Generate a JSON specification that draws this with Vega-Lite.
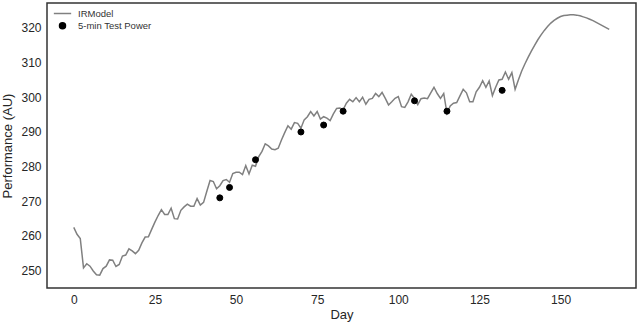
{
  "$schema": "https://vega.github.io/schema/vega-lite/v6.json",
  "autosize": "none",
  "padding": {"left": 47, "top": 3, "right": 4, "bottom": 36},
  "width": 589,
  "height": 285,
  "background": "white",
  "config": {
    "view": {"stroke": "#333333", "strokeWidth": 1.5},
    "font": "Liberation Sans",
    "axis": {
      "domain": false, "ticks": false, "grid": false,
      "labelFont": "Liberation Sans", "labelFontSize": 12, "labelColor": "#262626",
      "titleFont": "Liberation Sans", "titleFontSize": 13, "titleFontWeight": "normal", "titleColor": "#262626"
    },
    "legend": {
      "orient": "none", "legendX": 4, "legendY": -1, "padding": 2, "title": null,
      "labelFont": "Liberation Sans", "labelFontSize": 9.5, "labelColor": "#333333",
      "symbolStrokeWidth": 1.5, "labelOffset": 6, "rowPadding": 1
    }
  },
  "data": {
    "values": [
      {"day": 0, "perf": 262.5, "series": "IRModel"},
      {"day": 1, "perf": 260.5, "series": "IRModel"},
      {"day": 2, "perf": 259.3, "series": "IRModel"},
      {"day": 3, "perf": 250.8, "series": "IRModel"},
      {"day": 4, "perf": 252.0, "series": "IRModel"},
      {"day": 5, "perf": 251.3, "series": "IRModel"},
      {"day": 6, "perf": 249.9, "series": "IRModel"},
      {"day": 7, "perf": 248.8, "series": "IRModel"},
      {"day": 8, "perf": 248.7, "series": "IRModel"},
      {"day": 9, "perf": 250.6, "series": "IRModel"},
      {"day": 10, "perf": 251.3, "series": "IRModel"},
      {"day": 11, "perf": 253.1, "series": "IRModel"},
      {"day": 12, "perf": 253.0, "series": "IRModel"},
      {"day": 13, "perf": 251.2, "series": "IRModel"},
      {"day": 14, "perf": 251.8, "series": "IRModel"},
      {"day": 15, "perf": 254.2, "series": "IRModel"},
      {"day": 16, "perf": 254.5, "series": "IRModel"},
      {"day": 17, "perf": 256.3, "series": "IRModel"},
      {"day": 18, "perf": 255.7, "series": "IRModel"},
      {"day": 19, "perf": 254.9, "series": "IRModel"},
      {"day": 20, "perf": 255.9, "series": "IRModel"},
      {"day": 21, "perf": 258.0, "series": "IRModel"},
      {"day": 22, "perf": 259.7, "series": "IRModel"},
      {"day": 23, "perf": 259.8, "series": "IRModel"},
      {"day": 24, "perf": 261.9, "series": "IRModel"},
      {"day": 25, "perf": 264.0, "series": "IRModel"},
      {"day": 26, "perf": 265.9, "series": "IRModel"},
      {"day": 27, "perf": 267.6, "series": "IRModel"},
      {"day": 28, "perf": 266.2, "series": "IRModel"},
      {"day": 29, "perf": 266.2, "series": "IRModel"},
      {"day": 30, "perf": 268.0, "series": "IRModel"},
      {"day": 31, "perf": 265.0, "series": "IRModel"},
      {"day": 32, "perf": 264.9, "series": "IRModel"},
      {"day": 33, "perf": 267.4, "series": "IRModel"},
      {"day": 34, "perf": 268.4, "series": "IRModel"},
      {"day": 35, "perf": 269.2, "series": "IRModel"},
      {"day": 36, "perf": 268.6, "series": "IRModel"},
      {"day": 37, "perf": 268.6, "series": "IRModel"},
      {"day": 38, "perf": 270.8, "series": "IRModel"},
      {"day": 39, "perf": 268.9, "series": "IRModel"},
      {"day": 40, "perf": 269.7, "series": "IRModel"},
      {"day": 41, "perf": 272.9, "series": "IRModel"},
      {"day": 42, "perf": 276.0, "series": "IRModel"},
      {"day": 43, "perf": 275.7, "series": "IRModel"},
      {"day": 44, "perf": 273.6, "series": "IRModel"},
      {"day": 45, "perf": 274.5, "series": "IRModel"},
      {"day": 46, "perf": 276.0, "series": "IRModel"},
      {"day": 47, "perf": 276.3, "series": "IRModel"},
      {"day": 48, "perf": 275.5, "series": "IRModel"},
      {"day": 49, "perf": 278.0, "series": "IRModel"},
      {"day": 50, "perf": 278.4, "series": "IRModel"},
      {"day": 51, "perf": 278.4, "series": "IRModel"},
      {"day": 52, "perf": 277.7, "series": "IRModel"},
      {"day": 53, "perf": 280.3, "series": "IRModel"},
      {"day": 54, "perf": 277.9, "series": "IRModel"},
      {"day": 55, "perf": 280.4, "series": "IRModel"},
      {"day": 56, "perf": 280.1, "series": "IRModel"},
      {"day": 57, "perf": 282.9, "series": "IRModel"},
      {"day": 58, "perf": 284.4, "series": "IRModel"},
      {"day": 59, "perf": 286.6, "series": "IRModel"},
      {"day": 60, "perf": 286.0, "series": "IRModel"},
      {"day": 61, "perf": 285.1, "series": "IRModel"},
      {"day": 62, "perf": 284.9, "series": "IRModel"},
      {"day": 63, "perf": 285.3, "series": "IRModel"},
      {"day": 64, "perf": 287.7, "series": "IRModel"},
      {"day": 65, "perf": 289.8, "series": "IRModel"},
      {"day": 66, "perf": 291.8, "series": "IRModel"},
      {"day": 67, "perf": 290.8, "series": "IRModel"},
      {"day": 68, "perf": 292.7, "series": "IRModel"},
      {"day": 69, "perf": 292.5, "series": "IRModel"},
      {"day": 70, "perf": 291.1, "series": "IRModel"},
      {"day": 71, "perf": 293.5, "series": "IRModel"},
      {"day": 72, "perf": 294.4, "series": "IRModel"},
      {"day": 73, "perf": 295.9, "series": "IRModel"},
      {"day": 74, "perf": 294.6, "series": "IRModel"},
      {"day": 75, "perf": 295.9, "series": "IRModel"},
      {"day": 76, "perf": 293.7, "series": "IRModel"},
      {"day": 77, "perf": 294.4, "series": "IRModel"},
      {"day": 78, "perf": 294.0, "series": "IRModel"},
      {"day": 79, "perf": 293.3, "series": "IRModel"},
      {"day": 80, "perf": 295.2, "series": "IRModel"},
      {"day": 81, "perf": 296.8, "series": "IRModel"},
      {"day": 82, "perf": 296.9, "series": "IRModel"},
      {"day": 83, "perf": 296.4, "series": "IRModel"},
      {"day": 84, "perf": 298.3, "series": "IRModel"},
      {"day": 85, "perf": 299.4, "series": "IRModel"},
      {"day": 86, "perf": 298.7, "series": "IRModel"},
      {"day": 87, "perf": 299.9, "series": "IRModel"},
      {"day": 88, "perf": 298.7, "series": "IRModel"},
      {"day": 89, "perf": 300.0, "series": "IRModel"},
      {"day": 90, "perf": 298.0, "series": "IRModel"},
      {"day": 91, "perf": 299.4, "series": "IRModel"},
      {"day": 92, "perf": 299.7, "series": "IRModel"},
      {"day": 93, "perf": 301.1, "series": "IRModel"},
      {"day": 94, "perf": 300.2, "series": "IRModel"},
      {"day": 95, "perf": 301.4, "series": "IRModel"},
      {"day": 96, "perf": 299.7, "series": "IRModel"},
      {"day": 97, "perf": 297.8, "series": "IRModel"},
      {"day": 98, "perf": 298.7, "series": "IRModel"},
      {"day": 99, "perf": 299.7, "series": "IRModel"},
      {"day": 100, "perf": 300.2, "series": "IRModel"},
      {"day": 101, "perf": 297.3, "series": "IRModel"},
      {"day": 102, "perf": 297.1, "series": "IRModel"},
      {"day": 103, "perf": 298.7, "series": "IRModel"},
      {"day": 104, "perf": 300.9, "series": "IRModel"},
      {"day": 105, "perf": 299.7, "series": "IRModel"},
      {"day": 106, "perf": 297.9, "series": "IRModel"},
      {"day": 107, "perf": 299.6, "series": "IRModel"},
      {"day": 108, "perf": 299.8, "series": "IRModel"},
      {"day": 109, "perf": 299.6, "series": "IRModel"},
      {"day": 110, "perf": 301.3, "series": "IRModel"},
      {"day": 111, "perf": 302.9, "series": "IRModel"},
      {"day": 112, "perf": 301.1, "series": "IRModel"},
      {"day": 113, "perf": 299.7, "series": "IRModel"},
      {"day": 114, "perf": 301.1, "series": "IRModel"},
      {"day": 115, "perf": 295.4, "series": "IRModel"},
      {"day": 116, "perf": 297.5, "series": "IRModel"},
      {"day": 117, "perf": 298.3, "series": "IRModel"},
      {"day": 118, "perf": 298.5, "series": "IRModel"},
      {"day": 119, "perf": 300.4, "series": "IRModel"},
      {"day": 120, "perf": 302.3, "series": "IRModel"},
      {"day": 121, "perf": 301.3, "series": "IRModel"},
      {"day": 122, "perf": 298.7, "series": "IRModel"},
      {"day": 123, "perf": 298.7, "series": "IRModel"},
      {"day": 124, "perf": 301.6, "series": "IRModel"},
      {"day": 125, "perf": 302.9, "series": "IRModel"},
      {"day": 126, "perf": 304.8, "series": "IRModel"},
      {"day": 127, "perf": 302.9, "series": "IRModel"},
      {"day": 128, "perf": 304.7, "series": "IRModel"},
      {"day": 129, "perf": 300.5, "series": "IRModel"},
      {"day": 130, "perf": 302.9, "series": "IRModel"},
      {"day": 131, "perf": 305.0, "series": "IRModel"},
      {"day": 132, "perf": 305.2, "series": "IRModel"},
      {"day": 133, "perf": 307.3, "series": "IRModel"},
      {"day": 134, "perf": 305.2, "series": "IRModel"},
      {"day": 135, "perf": 307.1, "series": "IRModel"},
      {"day": 136, "perf": 302.3, "series": "IRModel"},
      {"day": 137, "perf": 305.0, "series": "IRModel"},
      {"day": 138, "perf": 307.5, "series": "IRModel"},
      {"day": 139, "perf": 309.6, "series": "IRModel"},
      {"day": 140, "perf": 311.5, "series": "IRModel"},
      {"day": 141, "perf": 313.3, "series": "IRModel"},
      {"day": 142, "perf": 315.0, "series": "IRModel"},
      {"day": 143, "perf": 316.6, "series": "IRModel"},
      {"day": 144, "perf": 318.0, "series": "IRModel"},
      {"day": 145, "perf": 319.3, "series": "IRModel"},
      {"day": 146, "perf": 320.4, "series": "IRModel"},
      {"day": 147, "perf": 321.4, "series": "IRModel"},
      {"day": 148, "perf": 322.2, "series": "IRModel"},
      {"day": 149, "perf": 322.8, "series": "IRModel"},
      {"day": 150, "perf": 323.3, "series": "IRModel"},
      {"day": 151, "perf": 323.6, "series": "IRModel"},
      {"day": 152, "perf": 323.7, "series": "IRModel"},
      {"day": 153, "perf": 323.8, "series": "IRModel"},
      {"day": 154, "perf": 323.8, "series": "IRModel"},
      {"day": 155, "perf": 323.7, "series": "IRModel"},
      {"day": 156, "perf": 323.5, "series": "IRModel"},
      {"day": 157, "perf": 323.2, "series": "IRModel"},
      {"day": 158, "perf": 322.9, "series": "IRModel"},
      {"day": 159, "perf": 322.5, "series": "IRModel"},
      {"day": 160, "perf": 322.1, "series": "IRModel"},
      {"day": 161, "perf": 321.6, "series": "IRModel"},
      {"day": 162, "perf": 321.1, "series": "IRModel"},
      {"day": 163, "perf": 320.6, "series": "IRModel"},
      {"day": 164, "perf": 320.1, "series": "IRModel"},
      {"day": 165, "perf": 319.6, "series": "IRModel"},
      {"day": 45, "perf": 271, "series": "5-min Test Power"},
      {"day": 48, "perf": 274, "series": "5-min Test Power"},
      {"day": 56, "perf": 282, "series": "5-min Test Power"},
      {"day": 70, "perf": 290, "series": "5-min Test Power"},
      {"day": 77, "perf": 292, "series": "5-min Test Power"},
      {"day": 83, "perf": 296, "series": "5-min Test Power"},
      {"day": 105, "perf": 299, "series": "5-min Test Power"},
      {"day": 115, "perf": 296, "series": "5-min Test Power"},
      {"day": 132, "perf": 302, "series": "5-min Test Power"}
    ]
  },
  "encoding": {
    "x": {
      "field": "day", "type": "quantitative", "title": "Day",
      "scale": {"domain": [-8.25, 173.25], "nice": false, "zero": false},
      "axis": {"values": [0, 25, 50, 75, 100, 125, 150], "labelPadding": 6, "titlePadding": 3}
    },
    "y": {
      "field": "perf", "type": "quantitative", "title": "Performance (AU)",
      "scale": {"domain": [245, 327.2], "nice": false, "zero": false},
      "axis": {"values": [250, 260, 270, 280, 290, 300, 310, 320], "labelPadding": 6, "titlePadding": 6}
    }
  },
  "layer": [
    {
      "transform": [{"filter": "datum.series === 'IRModel'"}],
      "mark": {"type": "line", "strokeWidth": 1.5},
      "encoding": {
        "stroke": {
          "field": "series", "type": "nominal",
          "scale": {"domain": ["IRModel", "5-min Test Power"], "range": ["#808080", "#000000"]},
          "legend": {"title": null}
        }
      }
    },
    {
      "transform": [{"filter": "datum.series === '5-min Test Power'"}],
      "mark": {"type": "point", "filled": true, "opacity": 1, "strokeWidth": 1},
      "encoding": {
        "stroke": {
          "field": "series", "type": "nominal",
          "scale": {"domain": ["IRModel", "5-min Test Power"], "range": ["#808080", "#000000"]},
          "legend": {"title": null}
        },
        "fill": {
          "field": "series", "type": "nominal",
          "scale": {"domain": ["IRModel", "5-min Test Power"], "range": ["#808080", "#000000"]},
          "legend": {"title": null}
        },
        "shape": {
          "field": "series", "type": "nominal",
          "scale": {"domain": ["IRModel", "5-min Test Power"], "range": ["stroke", "circle"]},
          "legend": {"title": null}
        },
        "size": {
          "field": "series", "type": "nominal",
          "scale": {"domain": ["IRModel", "5-min Test Power"], "range": [300, 36]},
          "legend": {"title": null}
        }
      }
    }
  ]
}
